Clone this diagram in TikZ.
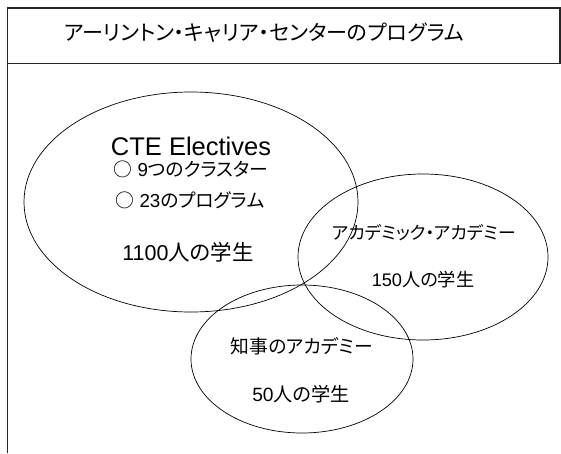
\documentclass[tikz,border=0pt]{standalone}
\usepackage{fontspec}
\setmainfont{Liberation Sans}
\newfontfamily\jp[RawFeature=+palt]{Noto Sans CJK JP}
\usetikzlibrary{shapes.geometric}
\tikzset{
  frame/.style={draw=black!85, line width=1.1pt},
  venn/.style={ellipse, draw=black, line width=0.7pt, inner sep=0pt},
  lbl/.style={inner sep=0pt, anchor=base, font=\fontsize{#1}{#1}\selectfont,
    text height=0.74*#1pt, text depth=0.08*#1pt},
}
\begin{document}
\begin{tikzpicture}[x=1pt,y=-1pt]
\useasboundingbox (0,0) rectangle (561,453);
% title box and left rule
\draw[frame] (7.5,8) rectangle (560,63.3);
\draw[frame] (7.5,63.3) -- (7.5,453);
\node[lbl=21.1] (title) at (264,40.5) {\jp アーリントン・キャリア・センターのプログラム};
% ellipses
\node[venn, minimum width=334pt, minimum height=220pt] (cte) at (191,202) {};
\node[venn, minimum width=250pt, minimum height=166pt] (aca) at (423,257) {};
\node[venn, minimum width=222pt, minimum height=148pt] (gov) at (302,359) {};
% CTE texts
\node[lbl=25.5] (cteT) at (191,155.5) {CTE Electives};
\node[lbl=18.8] (cteA) at (191,176.5) {{\jp ○} 9{\jp つのクラスター}};
\node[lbl=18.8] (cteB) at (190,207) {{\jp ○} 23{\jp のプログラム}};
\node[lbl=21.5] (cteN) at (188,260) {1100{\jp 人の学生}};
% academic academies
\node[lbl=17.7] (acaT) at (424,239) {\jp アカデミック・アカデミー};
\node[lbl=18.2] (acaN) at (423,286) {150{\jp 人の学生}};
% governor's academy
\node[lbl=18.8] (govT) at (302,353.5) {\jp 知事のアカデミー};
\node[lbl=19.2] (govN) at (301,401) {50{\jp 人の学生}};
\end{tikzpicture}
\end{document}
